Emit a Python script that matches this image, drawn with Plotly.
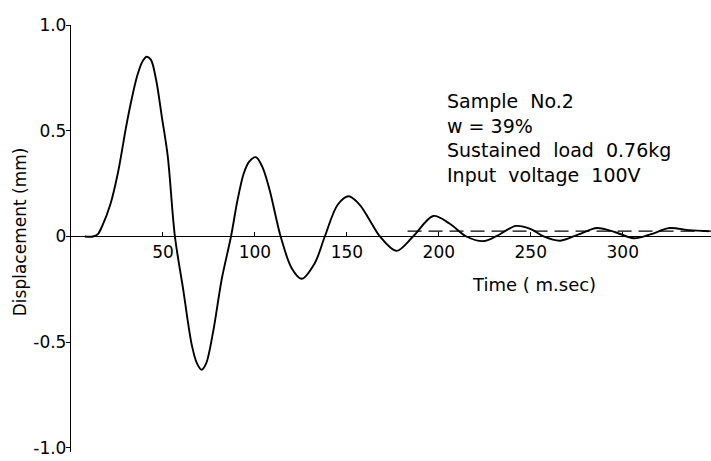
import plotly.graph_objects as go

# Displacement curve
time_ms = [7.5, 12, 14.5, 17, 21.5, 25.5, 30, 33, 36, 39, 41.2, 43.5, 46.3, 49.5,
           52.6, 56.5, 61, 65.6, 68.5, 71, 73.5, 77.3, 82, 87, 90.5, 94, 97, 100.5,
           104, 108, 114, 120, 125.4, 132.6, 138, 145, 151, 157, 162.5, 168, 177,
           186, 197, 206, 215, 224, 231, 242, 250, 257, 266, 276, 286, 296, 306,
           315, 325.5, 336, 347]
disp_mm = [0, 0, 0.01, 0.05, 0.155, 0.30, 0.52, 0.65, 0.76, 0.83, 0.85, 0.835,
           0.74, 0.56, 0.38, 0, -0.25, -0.51, -0.60, -0.63, -0.60, -0.45, -0.20, 0,
           0.17, 0.30, 0.355, 0.375, 0.33, 0.22, 0, -0.15, -0.20, -0.125, 0, 0.15,
           0.19, 0.15, 0.076, 0, -0.068, 0, 0.097, 0.06, 0, -0.022, 0, 0.05, 0.035,
           0, -0.02, 0.01, 0.04, 0.02, -0.008, 0.01, 0.04, 0.03, 0.025]

# Residual (dashed) level
resid_t = [183, 348]
resid_v = [0.025, 0.025]

x_ticks = [50, 100, 150, 200, 250, 300]
y_ticks = [-1.0, -0.5, 0, 0.5, 1.0]
y_ticklabels = ["-1.0", "-0.5", "0", "0.5", "1.0"]

NB = "\u00a0"
info_lines = ["Sample" + NB * 2 + "No.2", "w = 39%",
              "Sustained" + NB * 2 + "load" + NB * 2 + "0.76kg",
              "Input" + NB * 2 + "voltage" + NB * 2 + "100V"]

FONT = "DejaVu Sans"
y_lo, y_hi = -1.019, 1.0
x_lo, x_hi = 0, 348

fig = go.Figure()
fig.add_trace(go.Scatter(x=time_ms, y=disp_mm, mode="lines",
                         line=dict(color="black", width=1.9, shape="spline", smoothing=0.9),
                         showlegend=False, hoverinfo="skip"))
fig.add_trace(go.Scatter(x=resid_t, y=resid_v, mode="lines",
                         line=dict(color="black", width=1.3, dash="14px,7px"),
                         showlegend=False, hoverinfo="skip"))

zero_pos = (0 - y_lo) / (y_hi - y_lo)

fig.update_layout(
    width=711, height=461,
    margin=dict(l=71, r=0, t=25, b=9),
    paper_bgcolor="white", plot_bgcolor="white",
    font=dict(family=FONT, size=17, color="black"),
    xaxis=dict(range=[x_lo, x_hi], tickvals=x_ticks, showgrid=False, zeroline=False,
               showline=True, linecolor="black", linewidth=1.3,
               ticks="inside", ticklen=4, tickcolor="black",
               anchor="free", position=zero_pos,
               tickfont=dict(family=FONT, size=17)),
    yaxis=dict(range=[y_lo, y_hi], tickvals=y_ticks, ticktext=y_ticklabels,
               showgrid=False, zeroline=False, showline=True, linecolor="black",
               linewidth=1.3, ticks="outside", ticklen=4, tickcolor="black",
               ticklabelstandoff=-4,
               tickfont=dict(family=FONT, size=17)),
)

annotations = [
    dict(text="Displacement (mm)", xref="paper", yref="y", x=0, y=0.02,
         xshift=-51, textangle=-90, showarrow=False, xanchor="center",
         yanchor="middle", font=dict(family=FONT, size=17)),
    dict(text="Time" + NB + "(" + NB + "m.sec)", xref="x", yref="y", x=252, y=-0.229,
         showarrow=False, xanchor="center", yanchor="middle",
         font=dict(family=FONT, size=18)),
]
info_y = [0.642, 0.521, 0.409, 0.291]
for txt, yy in zip(info_lines, info_y):
    annotations.append(dict(text=txt, xref="x", yref="y", x=203.4, y=yy,
                            showarrow=False, xanchor="left", yanchor="middle",
                            font=dict(family=FONT, size=19)))
fig.update_layout(annotations=annotations)

fig.write_html("out.html")
